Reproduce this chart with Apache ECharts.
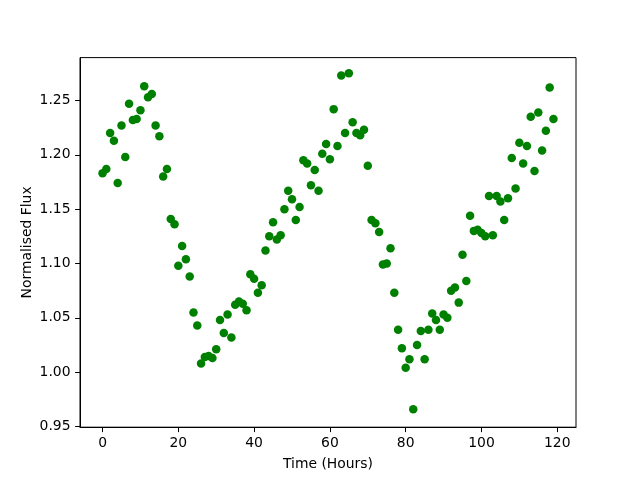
<!DOCTYPE html>
<html>
<head>
<meta charset="utf-8">
<script src="https://cdn.jsdelivr.net/npm/echarts@6/dist/echarts.min.js"></script>
<style>html,body{margin:0;padding:0;background:#fff}#c{width:640px;height:480px}</style>
</head>
<body>
<div id="c"></div>
<script>
var hours = [0,1,2,3,4,5,6,7,8,9,10,11,12,13,14,15,16,17,18,19,20,21,22,23,24,25,26,27,28,29,30,31,32,33,34,35,36,37,38,39,40,41,42,43,44,45,46,47,48,49,50,51,52,53,54,55,56,57,58,59,60,61,62,63,64,65,66,67,68,69,70,71,72,73,74,75,76,77,78,79,80,81,82,83,84,85,86,87,88,89,90,91,92,93,94,95,96,97,98,99,100,101,102,103,104,105,106,107,108,109,110,111,112,113,114,115,116,117,118,119];
var flux = [1.183,1.187,1.220,1.213,1.174,1.227,1.198,1.247,1.232,1.233,
1.241,1.263,1.253,1.256,1.227,1.217,1.180,1.187,1.141,1.136,
1.098,1.116,1.104,1.088,1.055,1.043,1.008,1.014,1.015,1.013,
1.021,1.048,1.036,1.053,1.032,1.062,1.065,1.063,1.057,1.090,
1.086,1.073,1.080,1.112,1.125,1.138,1.122,1.126,1.150,1.167,
1.159,1.140,1.152,1.195,1.192,1.172,1.186,1.167,1.201,1.210,
1.196,1.242,1.208,1.273,1.220,1.275,1.230,1.220,1.218,1.223,
1.190,1.140,1.137,1.129,1.099,1.100,1.114,1.073,1.039,1.022,
1.004,1.012,0.966,1.025,1.038,1.012,1.039,1.054,1.048,1.039,
1.053,1.050,1.075,1.078,1.064,1.108,1.084,1.144,1.130,1.131,
1.128,1.125,1.162,1.126,1.162,1.157,1.140,1.160,1.197,1.169,
1.211,1.192,1.208,1.235,1.185,1.239,1.204,1.222,1.262,1.233];
var xTicks = [0,20,40,60,80,100,120];
var yTicks = [0.95,1.00,1.05,1.10,1.15,1.20,1.25];

var pts = hours.map(function(h,i){return [h, flux[i]];});
var chart = echarts.init(document.getElementById('c'), null, {renderer:'canvas'});
var font = 'DejaVu Sans';
chart.setOption({
  animation:false,
  backgroundColor:'#fff',
  grid:{left:80, right:64, top:57.6, bottom:52.8, containLabel:false, outerBoundsMode:'none',
        show:true, borderColor:'#000', borderWidth:1, backgroundColor:'transparent'},
  xAxis:{
    type:'value', min:-5.95, max:124.95,
    name:'Time (Hours)', nameLocation:'middle', nameGap:30, nameMoveOverlap:false,
    nameTextStyle:{fontFamily:font, fontSize:13.9, color:'#000'},
    axisLine:{show:true, onZero:false, lineStyle:{color:'#000', width:1}},
    axisTick:{show:true, length:4.9, inside:false, lineStyle:{color:'#000'}, customValues:xTicks},
    axisLabel:{show:true, margin:9.5, fontFamily:font, fontSize:13.9, color:'#000', customValues:xTicks,
      formatter:function(v){return String(Math.round(v));}},
    splitLine:{show:false}
  },
  yAxis:{
    type:'value', min:0.9494, max:1.2894,
    name:'Normalised Flux', nameLocation:'middle', nameGap:46, nameRotate:90, nameMoveOverlap:false,
    nameTextStyle:{fontFamily:font, fontSize:13.9, color:'#000'},
    axisLine:{show:true, onZero:false, lineStyle:{color:'#000', width:1}},
    axisTick:{show:true, length:4.9, inside:false, lineStyle:{color:'#000'}, customValues:yTicks},
    axisLabel:{show:true, margin:9.5, fontFamily:font, fontSize:13.9, color:'#000', customValues:yTicks,
      formatter:function(v){return v.toFixed(2);}},
    splitLine:{show:false}
  },
  series:[{
    type:'scatter', data:pts, symbol:'circle', symbolSize:8.5,
    itemStyle:{color:'#008000', opacity:1}
  }]
});
</script>
</body>
</html>
